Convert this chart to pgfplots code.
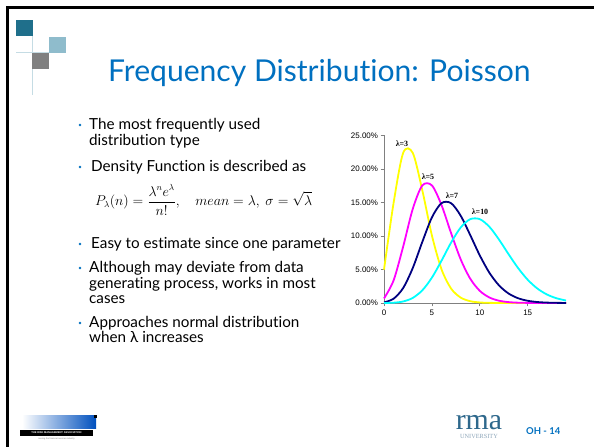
\documentclass[border=0pt]{standalone}
\usepackage{pgfplots}
\usepackage{pgfplotstable}
\pgfplotsset{compat=1.18}
\usepackage{fontspec}
\setmainfont[Ligatures={NoCommon,NoContextual}]{Lato}
\newfontfamily\arialf{Liberation Sans}
\newfontfamily\tnrf{Liberation Serif}
\definecolor{titleblue}{RGB}{0,112,192}
\definecolor{sqteal}{RGB}{31,111,139}
\definecolor{sqlight}{RGB}{143,188,204}
\definecolor{sqgray}{RGB}{128,128,128}
\definecolor{decoline}{RGB}{197,220,228}
\definecolor{rmablue}{RGB}{46,104,140}
\definecolor{univgray}{RGB}{140,165,185}
\definecolor{cnavy}{RGB}{0,0,128}
\definecolor{cyel}{RGB}{255,255,0}
\definecolor{cmag}{RGB}{255,0,255}
\definecolor{ccyan}{RGB}{0,255,255}
\definecolor{logoblue}{RGB}{0,80,190}

\pgfplotstableread{
n l3 l5 l7 l10
0 4.979 0.674 0.091 0.005
1 14.936 3.369 0.638 0.045
2 22.404 8.422 2.234 0.227
3 22.404 14.037 5.213 0.757
4 16.803 17.547 9.123 1.892
5 10.082 17.547 12.772 3.783
6 5.041 14.622 14.900 6.306
7 2.160 10.444 14.900 9.008
8 0.810 6.528 13.038 11.260
9 0.270 3.627 10.140 12.511
10 0.081 1.813 7.098 12.511
11 0.022 0.824 4.517 11.374
12 0.006 0.343 2.635 9.478
13 0.001 0.132 1.419 7.291
14 0.000 0.047 0.709 5.208
15 0.000 0.016 0.331 3.472
16 0.000 0.005 0.145 2.170
17 0.000 0.001 0.060 1.276
18 0.000 0.000 0.023 0.709
19 0.000 0.000 0.009 0.373
}\poisson

\begin{document}
\begin{tikzpicture}[x=1bp,y=1bp]
\path[use as bounding box,fill=white] (0,0) rectangle (594,447);
% border
\fill[black] (6,447-6) rectangle (594,447-9);
\fill[black] (6,0) rectangle (9,447-6);
% decoration
\draw[decoline,line width=1bp] (16,447-53) -- (66,447-53);
\draw[decoline,line width=1bp] (32.5,447-36) -- (32.5,447-95);
\fill[sqteal] (16,447-20) rectangle (33,447-36);
\fill[sqlight] (49,447-37) rectangle (66,447-53);
\fill[sqgray] (32,447-53) rectangle (49,447-69);
% title
\node[anchor=base west,inner sep=0,text=titleblue,font=\fontsize{30.2}{30}\selectfont] at (108,447-82) {Frequency Distribution: Poisson};
% bullets
\foreach \yy in {125,167,244,268,323} {\fill[titleblue] (80,447-\yy) circle (1.3bp);}
\begin{scope}[every node/.style={anchor=base west,inner sep=0,font=\fontsize{15.3}{15}\selectfont}]
\node at (89,447-130) {The most frequently used};
\node at (89,447-146) {distribution type};
\node at (91,447-172) {Density Function is described as};
\node at (91,447-249) {Easy to estimate since one parameter};
\node at (89,447-273) {Although may deviate from data};
\node at (89,447-289) {generating process, works in most};
\node at (89,447-304) {cases};
\node at (89,447-328) {Approaches normal distribution};
\node at (89,447-343) {when λ increases};
\end{scope}
\node[anchor=west,inner sep=0,font=\fontsize{13.5}{15}\selectfont] at (95,447-200) {\resizebox{217bp}{!}{$P_\lambda(n)=\displaystyle\frac{\lambda^n e^\lambda}{n!},\quad mean=\lambda,\ \sigma=\sqrt{\lambda}$}};
% chart
\begin{axis}[
  at={(384bp,144bp)}, anchor=origin,
  width=182bp, height=167.5bp, scale only axis,
  xmin=0, xmax=19, ymin=0, ymax=25,
  axis lines*=left,
  axis line style={sqgray,line width=0.8bp},
  xtick={0,5,10,15}, xticklabels={0,5,10,15},
  ytick={0,5,10,15,20,25},
  yticklabels={0.00\%,5.00\%,10.00\%,15.00\%,20.00\%,25.00\%},
  tick style={sqgray,line width=0.8bp},
  tick align=outside, major tick length=3.5bp,
  ticklabel style={font=\arialf\fontsize{8}{8}\selectfont},
  yticklabel style={xshift=1bp},
  clip=false,
  every axis plot/.append style={line width=1.8bp,smooth,tension=0.5,no markers},
]
\addplot[cyel] table[x=n,y=l3] {\poisson};
\addplot[cmag] table[x=n,y=l5] {\poisson};
\addplot[cnavy] table[x=n,y=l7] {\poisson};
\addplot[ccyan] table[x=n,y=l10] {\poisson};
\end{axis}
\begin{scope}[every node/.style={inner sep=0,font=\tnrf\bfseries\fontsize{8}{8}\selectfont}]
\node at (402,447-144) {λ=3};
\node at (428,447-177) {λ=5};
\node at (452,447-196) {λ=7};
\node at (480,447-212) {λ=10};
\end{scope}
% footer left logo
\shade[left color=white,right color=logoblue] (22,447-416) rectangle (96,447-429);
\fill[black] (94,447-415) rectangle (97,447-418);
\fill[black] (20,447-430) rectangle (93,447-436);
\node[inner sep=0,text=white,font=\arialf\bfseries\fontsize{2.6}{3}\selectfont] at (56.5,447-433) {THE RISK MANAGEMENT ASSOCIATION};
\node[inner sep=0,text=gray,font=\arialf\fontsize{2.2}{3}\selectfont] at (56.5,447-438.5) {serving the financial services industry};
% footer right
\node[anchor=base,inner sep=0,text=rmablue] at (479,447-430) {\tnrf\fontsize{30}{30}\selectfont\setbox0\hbox{rma}\copy0\llap{\hbox to\wd0{\hss\raisebox{-9bp}[0pt][0pt]{\color{univgray}\fontsize{6.3}{6}\selectfont UNIVERSITY}\hss}}};
\node[anchor=base west,inner sep=0,text=titleblue,font=\bfseries\fontsize{9.5}{9}\selectfont] at (526,447-434.5) {OH - 14};
\end{tikzpicture}
\end{document}
